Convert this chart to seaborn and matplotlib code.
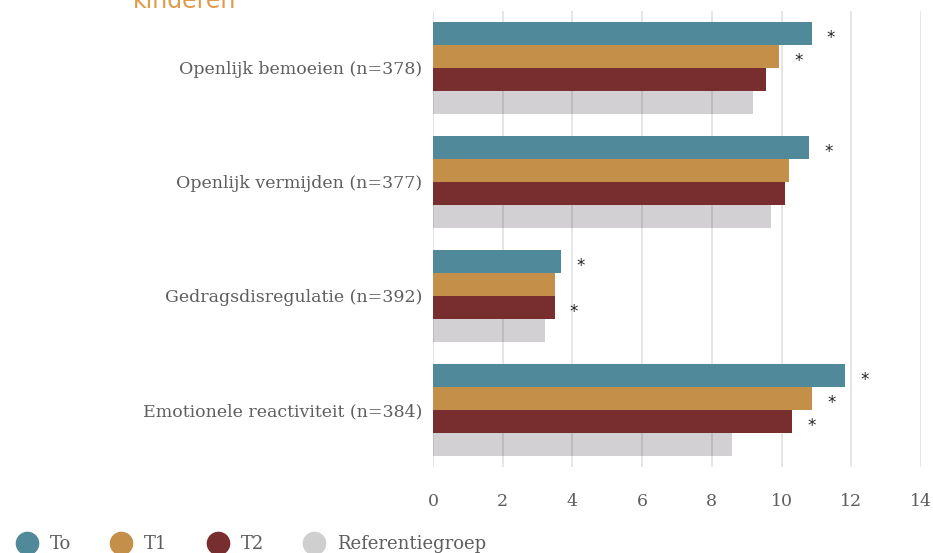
import numpy as np
import pandas as pd
import matplotlib
matplotlib.use("Agg")
import matplotlib.pyplot as plt
import seaborn as sns
from matplotlib.lines import Line2D

categories = ["Openlijk bemoeien (n=378)", "Openlijk vermijden (n=377)",
              "Gedragsdisregulatie (n=392)", "Emotionele reactiviteit (n=384)"]
groups = ["T0", "T1", "T2", "Referentiegroep"]
legend_labels = ["To", "T1", "T2", "Referentiegroep"]
t0 = [10.86, 10.79, 3.67, 11.82]
t1 = [9.94, 10.22, 3.49, 10.88]
t2 = [9.54, 10.11, 3.49, 10.30]
ref = [9.19, 9.71, 3.20, 8.58]
# significance markers per series (same order as categories)
sig_t0 = [True, True, True, True]
sig_t1 = [True, False, False, True]
sig_t2 = [False, False, True, True]
sig_ref = [False, False, False, False]
xticks = [0, 2, 4, 6, 8, 10, 12, 14]

colors = ["#508A9A", "#C48F48", "#782D2F", "#D0CFD0"]
text_color = "#5E5E5E"

rows = []
for g, vals in zip(groups, [t0, t1, t2, ref]):
    for c, v in zip(categories, vals):
        rows.append({"categorie": c, "groep": g, "waarde": v})
df = pd.DataFrame(rows)

sns.set_style("white")
plt.rcParams["font.family"] = ["DejaVu Serif"]

fig = plt.figure(figsize=(9.33, 5.53), dpi=100)
ax = fig.add_axes([433 / 933, 1 - 467 / 553, (921 - 433) / 933, (467 - 11) / 553])

sns.barplot(data=df, y="categorie", x="waarde", hue="groep", order=categories,
            hue_order=groups, palette=colors, orient="h", width=0.8,
            saturation=1, legend=False, ax=ax, linewidth=0, edgecolor="none")

# grey reference bars are see-through so the grid shows darker on them
for p in ax.containers[3]:
    p.set_facecolor((0.05, 0.0, 0.05, 0.185))

for cont, sig in zip(ax.containers, [sig_t0, sig_t1, sig_t2, sig_ref]):
    texts = ax.bar_label(cont, labels=["*" if s else "" for s in sig], padding=11,
                         fontsize=12, color="#222222", family="DejaVu Sans")
    for t in texts:
        t.set_va("center")
        t.xyann = (t.xyann[0], t.xyann[1] - 3)

ax.set_xlim(0, 14)
ax.set_xticks(xticks)
ax.set_xticklabels([str(t) for t in xticks])
ax.grid(axis="x", color="#E2E2E2", linewidth=1.2)
ax.set_axisbelow(True)
for sp in ax.spines.values():
    sp.set_visible(False)
ax.tick_params(axis="x", length=0, pad=19, labelsize=12.5, labelcolor=text_color)
ax.tick_params(axis="y", length=0, pad=8, labelsize=12.5, labelcolor=text_color)
ax.set_xlabel("")
ax.set_ylabel("")

fig.text(133 / 933, 1 - 8 / 553, "kinderen", color="#E09A48", fontsize=17,
         family="DejaVu Sans", ha="left", va="baseline")

handles = [Line2D([0], [0], marker="o", linestyle="", markersize=16,
                  markerfacecolor=c, markeredgecolor=c) for c in colors]
fig.legend(handles, legend_labels, loc="lower left", bbox_to_anchor=(0.0, -0.03),
           ncol=4, frameon=False, fontsize=13, labelcolor=text_color,
           handletextpad=0.65, columnspacing=2.2, handlelength=1.2)

fig.savefig("out.png", dpi=100)
